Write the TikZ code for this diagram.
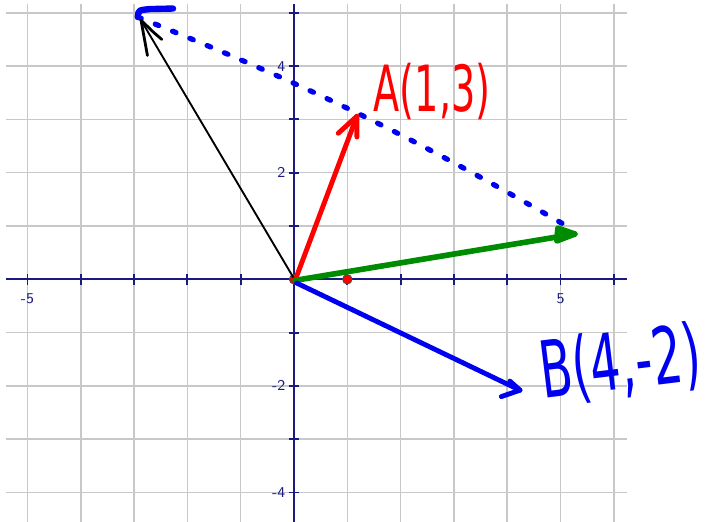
\documentclass[tikz,border=0pt]{standalone}
\usepackage{fontspec}
\newfontfamily\handfont{DejaVu Sans}
\usepackage{tikz}
\usetikzlibrary{positioning, arrows.meta, calc}
\definecolor{axisblue}{RGB}{26,26,128}
\definecolor{gridgray}{RGB}{200,200,200}
\definecolor{penblue}{RGB}{0,0,240}
\definecolor{penred}{RGB}{255,0,0}
\definecolor{pengreen}{RGB}{0,140,0}

\begin{document}
\begin{tikzpicture}[
    gridline/.style={gridgray, line width=0.8pt},
    axisline/.style={axisblue, line width=1pt},
    ticklabel/.style={axisblue, font=\sffamily\fontsize{8}{8}\selectfont, inner sep=1pt},
    pen/.style={line width=2.6pt, line cap=round, line join=round},
    dotline/.style={penblue, line width=2.8pt, line cap=round, dash pattern=on 2pt off 8pt},
    pt/.style={circle, draw=black!70, fill=penred, inner sep=0pt, minimum size=5pt, line width=0.5pt},
    handlabel/.style={inner sep=0pt},
]
    \useasboundingbox (-5.516,-4.553) rectangle (7.992,5.240);

    % Grid
    \foreach \x in {-5,...,6}
        \draw[gridline] (\x,-4.6) -- (\x,5.17);
    \foreach \y in {-4,...,5}
        \draw[gridline] (-5.4,\y) -- (6.25,\y);

    % Axes and ticks
    \draw[axisline] (-5.4,0) -- (6.25,0);
    \draw[axisline] (0,-4.6) -- (0,5.17);
    \foreach \x in {-5,...,6}
        \draw[axisline] (\x,-0.1) -- (\x,0.1);
    \foreach \y in {-4,...,5}
        \draw[axisline] (-0.1,\y) -- (0.1,\y);

    % Axis labels
    \node[ticklabel] (xm5) at (-5,-0.37) {-5};
    \node[ticklabel] (xp5) at (5,-0.37) {5};
    \node[ticklabel, anchor=east] (yp4) at (-0.12,4) {4};
    \node[ticklabel, anchor=east] (yp2) at (-0.12,2) {2};
    \node[ticklabel, anchor=east] (ym2) at (-0.12,-2) {-2};
    \node[ticklabel, anchor=east] (ym4) at (-0.12,-4) {-4};

    % Points
    \node[pt] (origin) at (0,0) {};
    \node[pt] (unitx) at (1,0) {};

    % Vector ends
    \coordinate (O) at (0.02,-0.02);
    \coordinate (Atip) at (1.18,3.06);
    \coordinate (Btip) at (4.24,-2.08);
    \coordinate (Stip) at (5.27,0.85);
    \coordinate (Dtip) at (-2.87,4.86);
    \coordinate (Dstart) at (-2.93,4.92);
    \coordinate (Dend) at (5.08,1.02);
    \coordinate (blobend) at (-2.27,5.08);

    % Dotted side of the parallelogram
    \draw[dotline] (Dstart) to[bend left=4] (Dend);
    \draw[pen, penblue, line width=3.4pt] (Dstart) .. controls (-2.92,5.05) .. (-2.7,5.07) -- (blobend);

    % Difference (black)
    \draw[black, line width=1pt, line cap=round] (O) -- (Dtip);
    \draw[black, line width=1.5pt, line cap=round] (Dtip) -- (-2.75,4.2);
    \draw[black, line width=1.5pt, line cap=round] (Dtip) -- (-2.62,4.62) -- (-2.48,4.5);

    % A (red)
    \draw[pen, penred] (O) -- (Atip);
    \draw[pen, penred] (0.83,2.74) -- (Atip) -- (1.18,2.67);

    % Sum (green)
    \draw[pen, pengreen, line width=3pt] (O) -- (Stip);
    \draw[pen, pengreen, line width=3pt, fill=pengreen] (4.95,0.96) -- (Stip) -- (4.93,0.72) -- cycle;

    % B (blue)
    \draw[pen, penblue] (0.05,-0.07) -- (Btip);
    \draw[pen, penblue] (4.05,-1.91) -- (Btip) -- (3.89,-2.2);

    % Hand written labels
    \node[handlabel, penred] (labelA) at (2.59,3.52)
        {\scalebox{0.6}[1]{\handfont\fontsize{34}{34}\selectfont A(1,3)}};
    \node[handlabel, penblue, rotate=7] (labelB) at (6.12,-1.6)
        {\scalebox{0.6}[1]{\handfont\fontsize{42}{42}\selectfont B(4,-2)}};

\end{tikzpicture}
\end{document}
